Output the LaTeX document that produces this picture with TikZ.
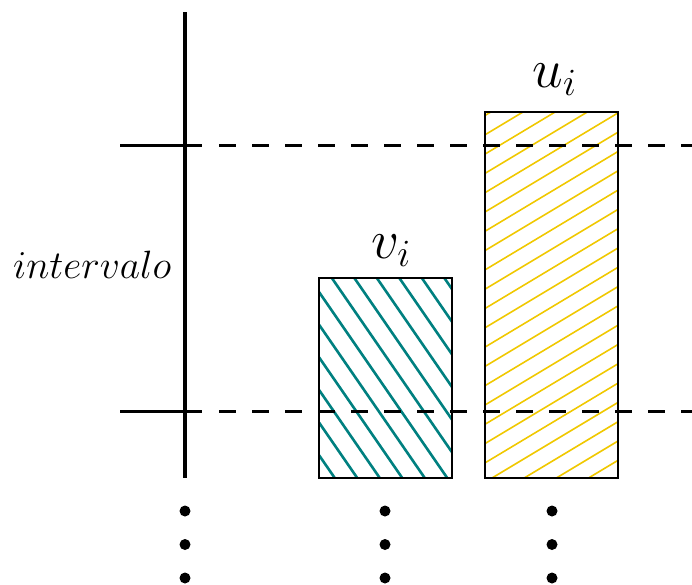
\RequirePackage{fix-cm}
\documentclass[tikz,border=0pt]{standalone}
\definecolor{hteal}{RGB}{0,128,128}
\definecolor{hgold}{RGB}{240,200,0}
\begin{document}
\begin{tikzpicture}[x=1pt,y=-1pt,
  axisline/.style={line width=4.5pt},
  guide/.style={line width=3pt},
  guidedash/.style={line width=3pt, dash pattern=on 16.5pt off 16.5pt},
  barbox/.style={draw, line width=1.5pt, rectangle, inner sep=0pt},
  tealhatch/.style={hteal, line width=2.6pt},
  goldhatch/.style={hgold, line width=1.6pt},
  dotnode/.style={circle, fill=black, inner sep=0pt, minimum size=11pt},
  biglabel/.style={inner sep=0pt, anchor=base, font=\fontsize{55}{62}\selectfont},
  sidelabel/.style={inner sep=0pt, anchor=base west, font=\fontsize{39.5}{46}\selectfont}]
\useasboundingbox (0,0) rectangle (692,584);

% bars
\node[barbox, minimum width=133pt, minimum height=200pt] (vbox) at (385.5,378) {};
\node[barbox, minimum width=133pt, minimum height=366pt] (ubox) at (551.5,295) {};

% hatching
\begin{scope}
  \clip (vbox.south west) rectangle (vbox.north east);
  \foreach \k in {-12,...,12} {
    \draw[tealhatch] ({319+\k*22.5-200},{292-200*1.45}) -- ({319+\k*22.5+200},{292+200*1.45});
  }
\end{scope}
\begin{scope}
  \clip (ubox.south west) rectangle (ubox.north east);
  \foreach \k in {-30,...,12} {
    \draw[goldhatch] (285,{405+\k*19.3+120}) -- (885,{405+\k*19.3-240});
  }
\end{scope}
\node[barbox, minimum width=133pt, minimum height=200pt] at (vbox.center) {};
\node[barbox, minimum width=133pt, minimum height=366pt] at (ubox.center) {};

% labels
\node[biglabel] (vlab) at (391,258) {$v_i$};
\node[biglabel] (ulab) at (554.5,87) {$u_i$};
\node[sidelabel] (intlab) at (13,278) {$intervalo$};

% axis and guides
\coordinate (atop) at (185,12);
\coordinate (abot) at (185,478);
\coordinate (g1a) at (120,145);
\coordinate (g1b) at (202,145);
\coordinate (g1c) at (219,145);
\coordinate (g1d) at (692,145);
\coordinate (g2a) at (120,411);
\coordinate (g2b) at (202,411);
\coordinate (g2c) at (219,411);
\coordinate (g2d) at (692,411);
\draw[guide] (g1a) -- (g1b);
\draw[guidedash] (g1c) -- (g1d);
\draw[guide] (g2a) -- (g2b);
\draw[guidedash] (g2c) -- (g2d);
\draw[axisline] (atop) -- (abot);

% dots
\foreach \x/\n in {185/a,385/b,552/c} {
  \node[dotnode] (d\n1) at (\x,511) {};
  \node[dotnode] (d\n2) at (\x,544.5) {};
  \node[dotnode] (d\n3) at (\x,578) {};
}
\end{tikzpicture}
\end{document}
